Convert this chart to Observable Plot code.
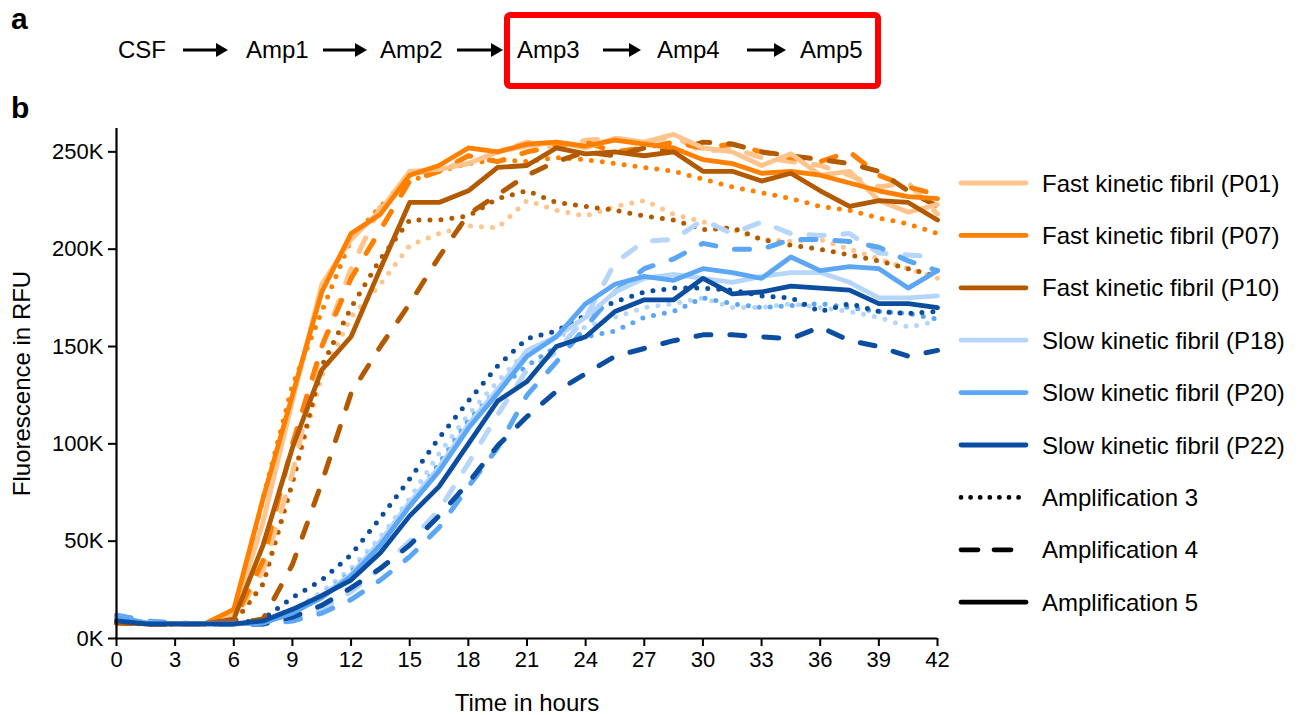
<!DOCTYPE html>
<html><head><meta charset="utf-8">
<script src="https://cdn.jsdelivr.net/npm/d3@7"></script>
<script src="https://cdn.jsdelivr.net/npm/@observablehq/plot@0.6"></script>
<style>
body{margin:0;background:#fff;font-family:"Liberation Sans",Arial,sans-serif;}
#wrap{position:relative;width:1306px;height:715px;overflow:hidden;background:#fff;}
#chart{position:absolute;left:0;top:110px;}
svg text{font-family:"Liberation Sans",Arial,sans-serif;}
</style></head><body><div id="wrap">
<div id="chart"></div>
<svg id="head" width="1306" height="130" style="position:absolute;left:0;top:0;z-index:2;overflow:visible"></svg>
<svg id="legend" width="366" height="500" style="position:absolute;left:940px;top:150px"></svg>
</div>
<script>
// ---- data (fluorescence in thousands of RFU) ----
const hours = [0,1.5,3,4.5,6,7.5,9,10.5,12,13.5,15,16.5,18,19.5,21,22.5,24,25.5,27,28.5,30,31.5,33,34.5,36,37.5,39,40.5,42];

const P01_amp3 = [10,8,7.5,7.5,8,28,80,135,165,182,202,208,212,211,225,220,217,222,225,218,214,210,205,204,205,200,195,190,185];
const P07_amp3 = [9,7.5,7.5,7.5,12,72,130,168,205,222,235,240,244,246,245,247,246,244,242,240,236,232,229,226,222,220,216,213,208];
const P10_amp3 = [8,7.5,7.5,7.5,8,28,80,140,170,195,215,215,217,226,230,224,222,220,217,215,210,211,205,202,200,197,194,190,186];
const P18_amp3 = [11,8,7.5,7.5,7.5,8,14,24,36,52,72,95,115,132,148,155,160,165,170,172,175,170,170,172,170,168,165,160,163];
const P20_amp3 = [11,8,7.5,7.5,7.5,8,13,22,34,50,68,90,112,128,140,150,155,158,165,168,175,172,170,171,172,170,168,167,164];
const P22_amp3 = [9,7.5,7.5,7.5,7.5,10,21,30,43,62,82,103,122,140,154,158,166,173,178,180,180,179,176,175,168,172,168,167,168];

const P01_amp4 = [10,8,7.5,7.5,9,35,85,150,190,222,238,242,244,250,255,252,256,257,255,258,250,252,247,245,243,238,232,234,218];
const P07_amp4 = [9,7.5,7.5,7.5,9,40,100,150,185,210,235,240,248,245,250,253,255,250,252,255,252,254,250,247,245,250,238,232,228];
const P10_amp4 = [8,7.5,7.5,7.5,7.5,10,38,80,126,150,172,196,218,228,238,245,250,248,252,250,255,254,250,248,246,244,240,230,222];
const P18_amp4 = [12,9,8,7.5,7.5,8,10,15,24,36,50,66,90,115,138,147,165,193,204,205,215,208,214,208,207,208,198,197,196];
const P20_amp4 = [12,9,8,7.5,7.5,7.5,9,13,20,30,42,57,78,98,125,142,160,178,190,195,203,200,200,205,205,204,201,194,189];
const P22_amp4 = [9,7.5,7.5,7.5,7.5,7.5,11,17,26,36,48,63,80,99,114,127,136,145,149,153,156,156,155,154,160,153,150,145,148];

const P01_amp5 = [10,8,7.5,7.5,12,60,122,182,205,220,240,241,244,250,253,255,252,257,255,259,252,250,243,249,238,240,225,219,223];
const P07_amp5 = [9,7.5,7.5,7.5,15,72,125,178,208,218,238,243,252,250,254,255,253,256,254,252,246,244,239,240,238,234,230,227,226];
const P10_amp5 = [8,7.5,7.5,7.5,10,48,98,138,155,190,224,224,230,242,243,252,249,250,248,250,240,240,235,239,230,222,225,224,215];
const P18_amp5 = [11,8,7.5,7.5,7.5,8,14,22,33,50,70,88,110,128,148,155,165,178,185,187,185,183,186,188,188,183,175,175,176];
const P20_amp5 = [11,8,7.5,7.5,7.5,8,13,21,32,48,68,86,108,126,145,155,172,182,186,184,190,188,185,196,189,191,190,180,189];
const P22_amp5 = [9,7.5,7.5,7.5,7.5,9,15,22,30,44,63,78,100,122,132,150,155,168,174,174,185,177,178,181,180,179,172,172,170];

const samples = ["P01","P07","P10","P18","P20","P22"];
const sampleLabels = ["Fast kinetic fibril (P01)","Fast kinetic fibril (P07)","Fast kinetic fibril (P10)","Slow kinetic fibril (P18)","Slow kinetic fibril (P20)","Slow kinetic fibril (P22)"];
const sampleColors = ["#FFC48C","#FF8000","#B35A00","#B5D6FA","#5BA6F5","#0B4DA0"];
const ampLabels = ["Amplification 3","Amplification 4","Amplification 5"];
const yTicks = [0,50000,100000,150000,200000,250000];
const xTicks = [0,3,6,9,12,15,18,21,24,27,30,33,36,39,42];
const flowSteps = ["CSF","Amp1","Amp2","Amp3","Amp4","Amp5"];

const seriesTable = {
  3: {P01:P01_amp3,P07:P07_amp3,P10:P10_amp3,P18:P18_amp3,P20:P20_amp3,P22:P22_amp3},
  4: {P01:P01_amp4,P07:P07_amp4,P10:P10_amp4,P18:P18_amp4,P20:P20_amp4,P22:P22_amp4},
  5: {P01:P01_amp5,P07:P07_amp5,P10:P10_amp5,P18:P18_amp5,P20:P20_amp5,P22:P22_amp5}
};
function rowsFor(amp){
  const out=[];
  for(const s of samples){
    seriesTable[amp][s].forEach((v,i)=>out.push({t:hours[i],v:v*1000,sample:s,amp}));
  }
  return out;
}

const dotDash = "0 11";
const dashDash = "15 19";

const chart = Plot.plot({
  width:960, height:605,
  marginLeft:116, marginRight:23, marginTop:18, marginBottom:77,
  style:{fontSize:"22px", fontFamily:"Liberation Sans, Arial, sans-serif", color:"#000", background:"#fff"},
  x:{domain:[0,42]},
  y:{domain:[0,262000]},
  color:{domain:samples, range:sampleColors},
  marks:[
    Plot.line(rowsFor(3),{x:"t",y:"v",z:"sample",stroke:"sample",strokeWidth:5,strokeDasharray:dotDash,strokeLinecap:"round",strokeLinejoin:"round"}),
    Plot.line(rowsFor(4),{x:"t",y:"v",z:"sample",stroke:"sample",strokeWidth:5,strokeDasharray:dashDash,strokeLinecap:"round",strokeLinejoin:"round"}),
    Plot.line(rowsFor(5),{x:"t",y:"v",z:"sample",stroke:"sample",strokeWidth:4.8,strokeLinejoin:"round"}),
    Plot.ruleY([0],{stroke:"#000",strokeWidth:2.2}),
    Plot.ruleX([0],{stroke:"#000",strokeWidth:2.2}),
    Plot.axisX({ticks:xTicks, tickSize:8, tickPadding:5, strokeWidth:2, fontSize:22, label:null}),
    Plot.axisY({ticks:yTicks, tickFormat:d=>d/1000+"K", tickSize:8, tickPadding:5, strokeWidth:2, fontSize:22, label:null}),
    Plot.axisX({ticks:[], tickSize:0, fontSize:24,
      label:"Time in hours", labelAnchor:"center", labelArrow:"none", labelOffset:72}),
    Plot.axisY({ticks:[], tickSize:0, fontSize:24,
      label:"Fluorescence in RFU", labelAnchor:"center", labelArrow:"none", labelOffset:104})
  ]
});
document.getElementById("chart").appendChild(chart);

// ---- header (panel a) ----
const head = d3.select("#head");
head.append("text").attr("x",11).attr("y",29).attr("font-size",30).attr("font-weight","bold").text("a");
head.append("text").attr("x",11).attr("y",118).attr("font-size",30).attr("font-weight","bold").text("b");
const stepX = [118,246,380,517,657,800];
flowSteps.forEach((s,i)=>head.append("text").attr("x",stepX[i]).attr("y",58).attr("font-size",24).text(s));
const arrows = [[183,228],[323,367],[457,503],[603,641],[747,786]];
arrows.forEach(([a,b])=>{
  head.append("line").attr("x1",a).attr("x2",b-10).attr("y1",50).attr("y2",50).attr("stroke","#000").attr("stroke-width",3);
  head.append("path").attr("d",`M${b-12},43 L${b},50 L${b-12},57 Z`).attr("fill","#000");
});
head.append("rect").attr("x",507).attr("y",15).attr("width",371).attr("height",71).attr("rx",3)
  .attr("fill","none").attr("stroke","#FF0000").attr("stroke-width",6);

// ---- legend ----
const leg = d3.select("#legend");
const rowY = i => 33 + i*52.4;
samples.forEach((s,i)=>{
  leg.append("line").attr("x1",21).attr("x2",86).attr("y1",rowY(i)).attr("y2",rowY(i))
    .attr("stroke",sampleColors[i]).attr("stroke-width",4.8).attr("stroke-linecap","round");
  leg.append("text").attr("x",102).attr("y",rowY(i)+8.5).attr("font-size",24).text(sampleLabels[i]);
});
const ampDash = ["0 9.6", "17 16", null];
ampLabels.forEach((a,j)=>{
  const i=6+j;
  const ln = leg.append("line").attr("x1",21).attr("x2", j===2?86:80).attr("y1",rowY(i)).attr("y2",rowY(i))
    .attr("stroke","#000").attr("stroke-width",4.8).attr("stroke-linecap","round");
  if(ampDash[j]) ln.attr("stroke-dasharray",ampDash[j]);
  leg.append("text").attr("x",102).attr("y",rowY(i)+8.5).attr("font-size",24).text(a);
});
</script>
</body></html>
